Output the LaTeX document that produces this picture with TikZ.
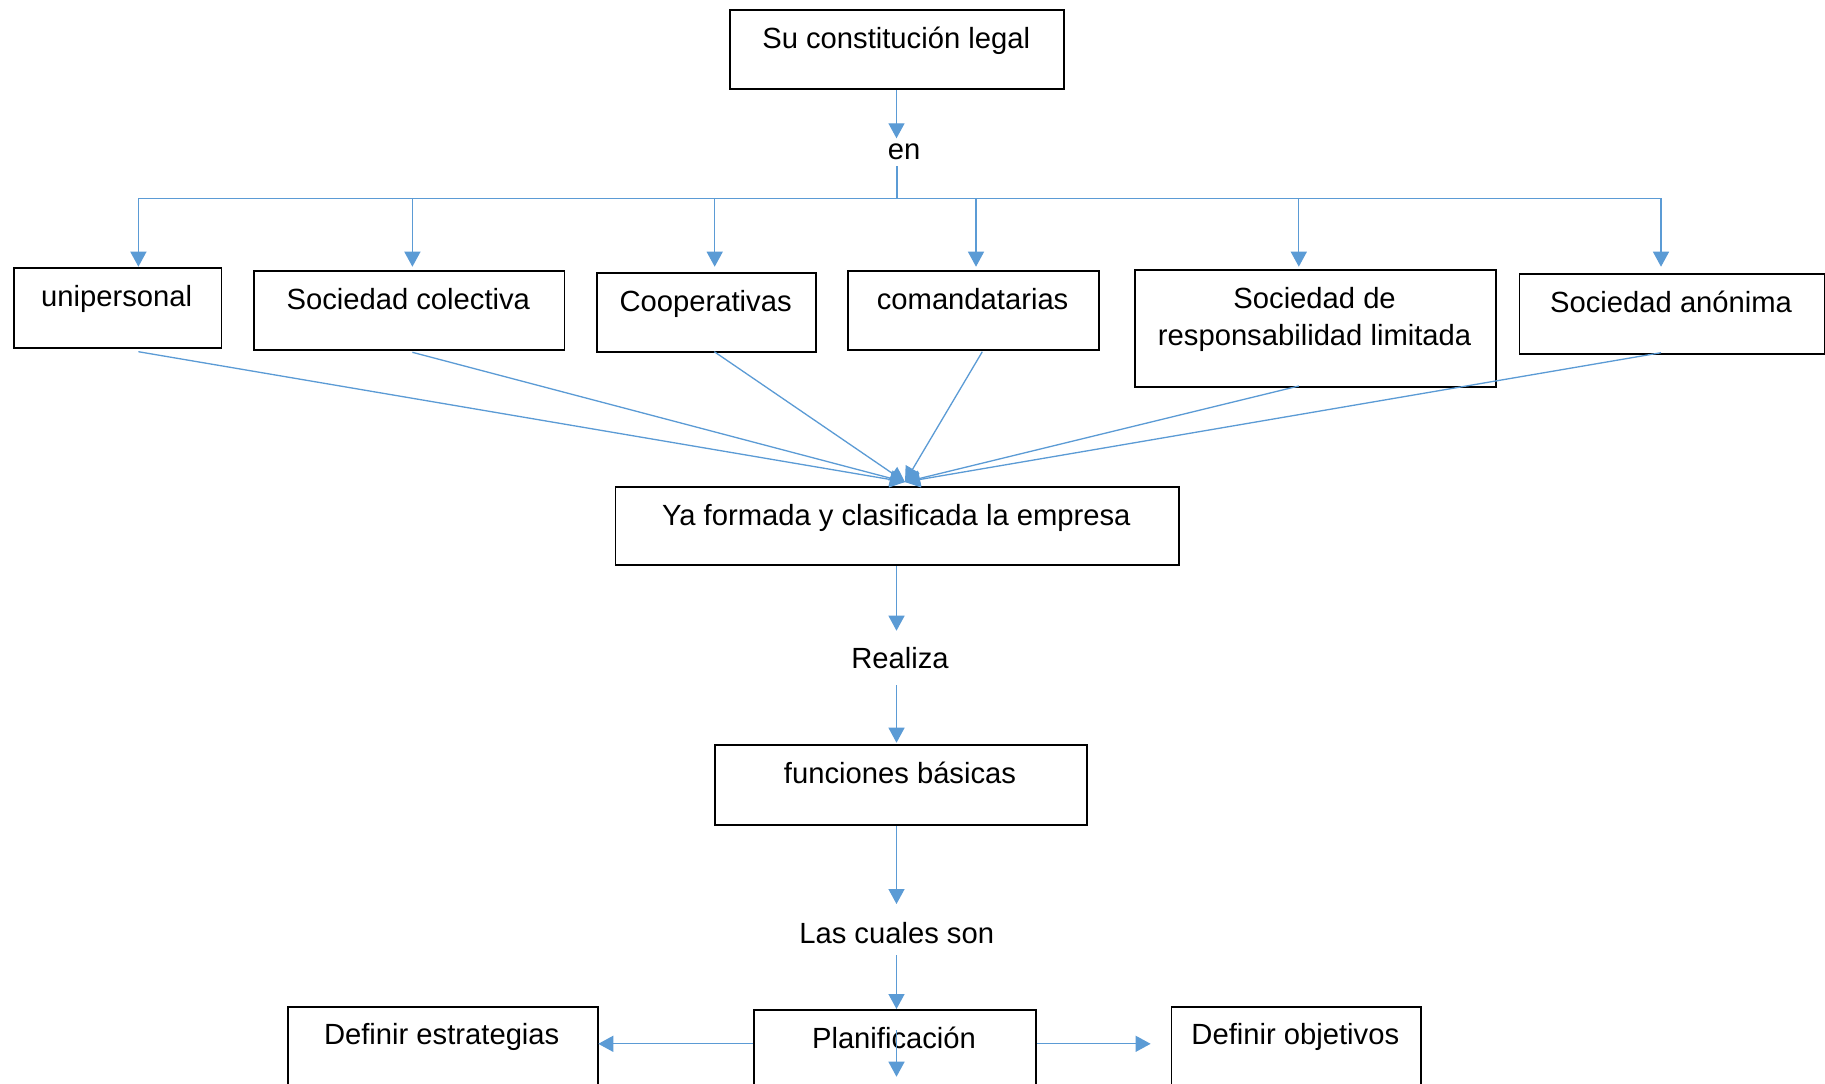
\documentclass[tikz,border=0pt]{standalone}
\usepackage{fontspec}
\setmainfont{Liberation Sans}
\usetikzlibrary{arrows.meta,calc}
\definecolor{connblue}{HTML}{5B9BD5}
\begin{document}
\begin{tikzpicture}[x=0.5pt,y=-0.5pt,
  box/.style={draw=black,line width=0.9pt,inner sep=0pt,anchor=north west},
  txt/.style={inner sep=0pt,anchor=base,font=\fontsize{14.6pt}{18.35pt}\selectfont},
  conn/.style={draw=connblue,line width=0.65pt},
  arr/.style={conn,-{Triangle[width=8pt,length=7.5pt]}}]
\useasboundingbox (0,0) rectangle (1825,1083);
\clip (0,0) rectangle (1825,1083);
\fill[white] (0,0) rectangle (1825,1083);

% boxes
\node[box,minimum width=166.85pt,minimum height=39.5pt] (t) at (729.3,9.3) {};
\node[box,minimum width=103.95pt,minimum height=39.7pt] (u) at (12.7,267.3) {};
\node[box,minimum width=155.25pt,minimum height=39.65pt] (sc) at (253,270) {};
\node[box,minimum width=109.35pt,minimum height=39.5pt] (coop) at (596.2,271.7) {};
\node[box,minimum width=125.7pt,minimum height=39.65pt] (com) at (846.9,270) {};
\node[box,minimum width=180.75pt,minimum height=58.35pt] (srl) at (1133.8,269.3) {};
\node[box,minimum width=152.6pt,minimum height=39.7pt] (an) at (1518.5,273.3) {};
\node[box,minimum width=281.7pt,minimum height=39.3pt] (ya) at (614.6,485.7) {};
\node[box,minimum width=186pt,minimum height=39.85pt] (fb) at (714,744.3) {};
\node[box,minimum width=141pt,minimum height=50pt] (plan) at (753,1009) {};
\node[box,minimum width=155pt,minimum height=50pt] (de) at (286.7,1006) {};
\node[box,minimum width=124.7pt,minimum height=50pt] (do) at (1170.6,1006) {};

% texts
\node[txt] (tt) at (896.2,48.5) {Su constitución legal};
\node[txt] (ut) at (116.7,306.8) {unipersonal};
\node[txt] (sct) at (408.3,309.5) {Sociedad colectiva};
\node[txt] (coopt) at (705.6,311) {Cooperativas};
\node[txt] (comt) at (972.6,309.5) {comandatarias};
\node[txt] (srlt1) at (1314.6,308.5) {Sociedad de};
\node[txt] (srlt2) at (1314.6,345) {responsabilidad limitada};
\node[txt] (ant) at (1671.1,312) {Sociedad anónima};
\node[txt] (yat) at (896.3,525) {Ya formada y clasificada la empresa};
\node[txt] (fbt) at (900,783.5) {funciones básicas};
\node[txt] (plant) at (894,1048) {Planificación};
\node[txt] (det) at (441.7,1044) {Definir estrategias};
\node[txt] (dot) at (1295.3,1044) {Definir objetivos};
\node[txt] (en) at (904,159.3) {en};
\node[txt] (rea) at (900,668.3) {Realiza};
\node[txt] (lcs) at (896.7,943.3) {Las cuales son};

% connector coordinates
\coordinate (a0) at (896.5,138.3);
\coordinate (bus) at (897,198.3);
\coordinate (tu) at (138.4,266.7);
\coordinate (tsc) at (412.4,266.7);
\coordinate (tcoop) at (714.7,266.7);
\coordinate (tcom) at (976,266.7);
\coordinate (tsrl) at (1298.8,266.7);
\coordinate (tan) at (1661,266.7);
\coordinate (su) at (138.4,351.7);
\coordinate (ssc) at (412.4,352.3);
\coordinate (scoop) at (714.3,351.7);
\coordinate (scom) at (982.3,351.7);
\coordinate (ssrl) at (1298.8,386);
\coordinate (san) at (1661,352.7);
\coordinate (conv) at (905,482);
\coordinate (r1) at (896.5,630.7);
\coordinate (r2) at (896.5,685);
\coordinate (r3) at (896.5,742.7);
\coordinate (l1) at (896.5,904);
\coordinate (l2) at (896.5,955);
\coordinate (pm) at (897,1043.8);
\coordinate (pl) at (598.3,1043.8);
\coordinate (pr) at (1150.6,1043.8);
\coordinate (pd1) at (896.5,1030);
\coordinate (pd2) at (896.5,1076.7);

% connectors
\draw[arr] (t.south -| a0) -- (a0);
\draw[conn] ([yshift=-3.2pt]en.south -| bus) -- (bus);
\draw[arr] (bus) -| (tu);
\draw[arr] (bus) -| (tsc);
\draw[arr] (bus) -| (tcoop);
\draw[arr] (bus) -| (tcom);
\draw[arr] (bus) -| (tsrl);
\draw[arr] (bus) -| (tan);
\draw[arr] (su) -- (conv);
\draw[arr] (ssc) -- (conv);
\draw[arr] (scoop) -- (conv);
\draw[arr] (scom) -- (conv);
\draw[arr] (ssrl) -- (conv);
\draw[arr] (san) -- (conv);
\draw[arr] (ya.south -| r1) -- (r1);
\draw[arr] (r2) -- (r3);
\draw[arr] (fb.south -| l1) -- (l1);
\draw[arr] (l2) -- (plan.north -| l2);
\draw[arr] (plan.west |- pm) -- (pl);
\draw[arr] (plan.east |- pm) -- (pr);
\draw[arr] (pd1) -- (pd2);
\end{tikzpicture}
\end{document}
